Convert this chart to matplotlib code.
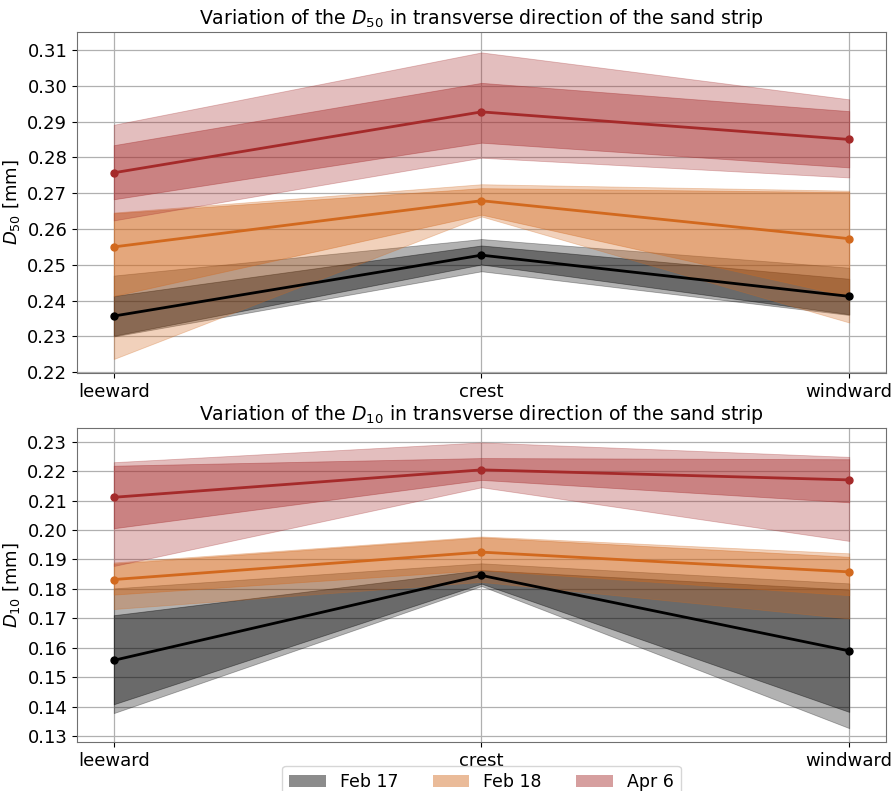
import matplotlib
matplotlib.use("Agg")
import matplotlib.pyplot as plt
from matplotlib.patches import Patch

positions = ["leeward", "crest", "windward"]
dates = ["Feb 17", "Feb 18", "Apr 6"]
colors = ["black", "#d2691e", "#a52a2a"]

# D50 [mm], rows: Feb 17, Feb 18, Apr 6; columns: leeward, crest, windward
d50_mean = [[0.2357, 0.2527, 0.2412],
            [0.2550, 0.2679, 0.2573],
            [0.2757, 0.2927, 0.2850]]
d50_inner_lo = [[0.2302, 0.2501, 0.2362],
                [0.2413, 0.2640, 0.2412],
                [0.2683, 0.2841, 0.2772]]
d50_inner_hi = [[0.2413, 0.2554, 0.2461],
                [0.2644, 0.2714, 0.2703],
                [0.2834, 0.3008, 0.2929]]
d50_outer_lo = [[0.2300, 0.2482, 0.2360],
                [0.2237, 0.2635, 0.2339],
                [0.2624, 0.2799, 0.2744]]
d50_outer_hi = [[0.2470, 0.2572, 0.2492],
                [0.2646, 0.2725, 0.2707],
                [0.2891, 0.3093, 0.2962]]

# D10 [mm]
d10_mean = [[0.1558, 0.1846, 0.1590],
            [0.1832, 0.1925, 0.1858],
            [0.2111, 0.2204, 0.2170]]
d10_inner_lo = [[0.1409, 0.1818, 0.1383],
                [0.1781, 0.1864, 0.1779],
                [0.2006, 0.2170, 0.2094]]
d10_inner_hi = [[0.1711, 0.1864, 0.1798],
                [0.1886, 0.1975, 0.1909],
                [0.2218, 0.2244, 0.2240]]
d10_outer_lo = [[0.1379, 0.1810, 0.1328],
                [0.1732, 0.1824, 0.1700],
                [0.1878, 0.2145, 0.1963]]
d10_outer_hi = [[0.1802, 0.1887, 0.1819],
                [0.1890, 0.1978, 0.1921],
                [0.2230, 0.2297, 0.2248]]

d50_ticks = [0.22, 0.23, 0.24, 0.25, 0.26, 0.27, 0.28, 0.29, 0.30, 0.31]
d10_ticks = [0.13, 0.14, 0.15, 0.16, 0.17, 0.18, 0.19, 0.20, 0.21, 0.22, 0.23]

FS = 13

fig = plt.figure(figsize=(8.95, 7.91), dpi=100)
W, H = 895, 791
ax1 = fig.add_axes([77 / W, 1 - 373 / H, (886 - 77) / W, (373 - 32) / H])
ax2 = fig.add_axes([77 / W, 1 - 742 / H, (886 - 77) / W, (742 - 428) / H])

x = list(range(len(positions)))


def draw(ax, mean, ilo, ihi, olo, ohi, name, ticks, ylim):
    for k, c in enumerate(colors):
        ax.fill_between(x, olo[k], ohi[k], color=c, alpha=0.3,
                        edgecolor=c, linewidth=0.6, zorder=2)
        ax.fill_between(x, ilo[k], ihi[k], color=c, alpha=0.4,
                        edgecolor=c, linewidth=0.6, zorder=2)
    for k, c in enumerate(colors):
        ax.plot(x, mean[k], color=c, lw=2, marker="o", ms=5, zorder=4)
    ax.set_xlim(-0.1, 2.1)
    ax.set_ylim(*ylim)
    ax.set_xticks(x)
    ax.set_xticklabels(positions, fontsize=FS)
    ax.set_yticks(ticks)
    ax.set_yticklabels([f"{t:.2f}" for t in ticks], fontsize=FS)
    ax.grid(True, color="#b0b0b0", lw=0.9)
    ax.set_axisbelow(True)
    ax.set_ylabel(rf"$D_{{{name}}}$ [mm]", fontsize=FS)
    ax.set_title(rf"Variation of the $D_{{{name}}}$ in transverse direction of the sand strip",
                 fontsize=13.6)
    for s in ax.spines.values():
        s.set_color("#707070")


draw(ax1, d50_mean, d50_inner_lo, d50_inner_hi, d50_outer_lo, d50_outer_hi,
     "50", d50_ticks, (0.2198, 0.315))
draw(ax2, d10_mean, d10_inner_lo, d10_inner_hi, d10_outer_lo, d10_outer_hi,
     "10", d10_ticks, (0.1281, 0.2346))

handles = [Patch(facecolor=c, alpha=0.45, label=d) for c, d in zip(colors, dates)]
fig.legend(handles=handles, loc="upper center", bbox_to_anchor=(481.5 / W, 1 - 766 / H),
           ncol=3, fontsize=12.5, borderaxespad=0, columnspacing=2.0,
           handlelength=2.1)

fig.savefig("out.png", dpi=100)
